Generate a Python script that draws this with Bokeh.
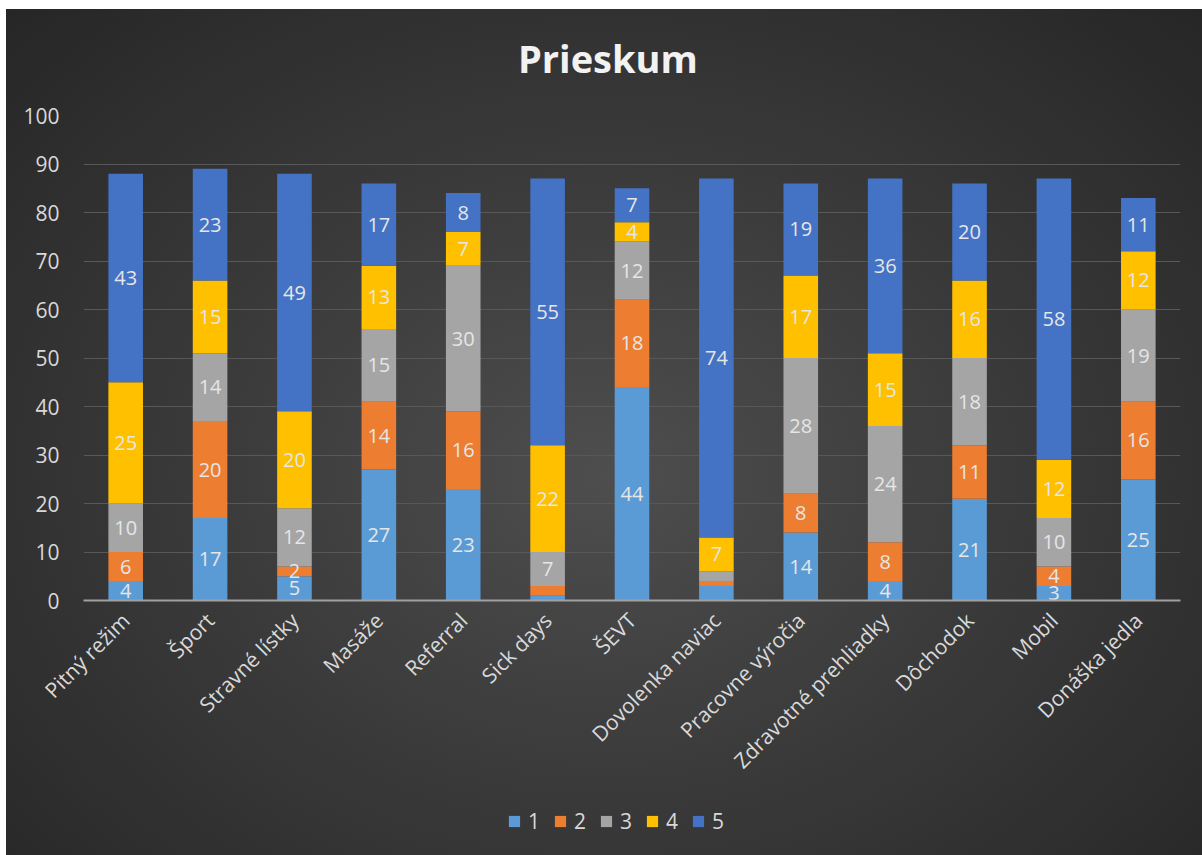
import numpy as np
from bokeh.plotting import figure
from bokeh.layouts import column
from bokeh.models import (ColumnDataSource, FactorRange, Legend, LegendItem, FixedTicker, Label,
                          Range1d)
from bokeh.core.properties import value
from bokeh.embed import file_html
from bokeh.resources import INLINE

title_text = "Prieskum"
categories = ["Pitný režim", "Šport", "Stravné lístky", "Masáže", "Referral", "Sick days",
              "ŠEVT", "Dovolenka naviac", "Pracovne výročia", "Zdravotné prehliadky",
              "Dôchodok", "Mobil", "Donáška jedla"]
s1 = [4, 17, 5, 27, 23, 1, 44, 3, 14, 4, 21, 3, 25]
s2 = [6, 20, 2, 14, 16, 2, 18, 1, 8, 8, 11, 4, 16]
s3 = [10, 14, 12, 15, 30, 7, 12, 2, 28, 24, 18, 10, 19]
s4 = [25, 15, 20, 13, 7, 22, 4, 7, 17, 15, 16, 12, 12]
s5 = [43, 23, 49, 17, 8, 55, 7, 74, 19, 36, 20, 58, 11]
series_names = ["1", "2", "3", "4", "5"]
colors = ["#5B9BD5", "#ED7D31", "#A5A5A5", "#FFC000", "#4472C4"]
# data labels not displayed in the reference (category, series)
hidden_labels = [("Sick days", "1"), ("Sick days", "2"),
                 ("Dovolenka naviac", "1"), ("Dovolenka naviac", "2"), ("Dovolenka naviac", "3")]
y_ticks = [0, 10, 20, 30, 40, 50, 60, 70, 80, 90, 100]

FONT = "Open Sans"
series = [s1, s2, s3, s4, s5]
data = {"cat": categories}
for name, s in zip(series_names, series):
    data[name] = s
source = ColumnDataSource(data)


def strip(height):
    f = figure(width=1196, height=height, output_backend="svg", toolbar_location=None,
               x_range=Range1d(0, 1), y_range=Range1d(0, 1),
               min_border_left=0, min_border_right=0, min_border_top=0, min_border_bottom=0)
    f.axis.visible = False
    f.grid.grid_line_color = None
    f.border_fill_alpha = 0
    f.background_fill_alpha = 0
    f.outline_line_color = None
    return f


# title strip (frames of the column's figures are aligned with the chart's frame)
tf = strip(80)
tf.add_layout(Label(x=0.478, y=0.4, text=title_text, text_align="center", text_baseline="middle",
                    text_font=FONT, text_font_style="bold", text_font_size="38px",
                    text_color="#f2f2f2"))

p = figure(x_range=FactorRange(*categories, range_padding=0), y_range=(0, 100),
           width=1196, height=700, output_backend="svg", toolbar_location=None,
           min_border_left=77, min_border_right=22, min_border_top=26, min_border_bottom=189)
p.border_fill_alpha = 0
p.background_fill_alpha = 0
p.outline_line_color = None

p.vbar_stack(series_names, x="cat", width=0.41, color=colors, source=source, line_color=None)

# data labels
cum = np.zeros(len(categories))
for name, s in zip(series_names, series):
    arr = np.array(s, dtype=float)
    mids = cum + arr / 2
    cum = cum + arr
    texts = [("" if (c, name) in hidden_labels else str(v)) for c, v in zip(categories, s)]
    p.text(x=categories, y=list(mids), text=texts, text_align="center", text_baseline="middle",
           text_color="#e6e6e6", text_font_size="20px", text_font=value(FONT))

# axes
p.yaxis.ticker = FixedTicker(ticks=y_ticks)
p.yaxis.axis_line_color = None
p.yaxis.major_tick_line_color = None
p.yaxis.minor_tick_line_color = None
p.yaxis.major_label_text_color = "#d9d9d9"
p.yaxis.major_label_text_font = FONT
p.yaxis.major_label_text_font_size = "21px"
p.yaxis.major_label_standoff = 18

p.xaxis.axis_line_color = "#a0a0a0"
p.xaxis.axis_line_width = 2
p.xaxis.major_tick_line_color = None
p.xaxis.minor_tick_line_color = None
p.xaxis.major_label_orientation = np.pi / 4
p.xaxis.major_label_text_color = "#d9d9d9"
p.xaxis.major_label_text_font = FONT
p.xaxis.major_label_text_font_size = "21px"
p.xaxis.major_label_standoff = 10

p.xgrid.grid_line_color = None
p.ygrid.grid_line_color = "#585858"
p.ygrid.grid_line_width = 1

# legend strip
lg = strip(66)
legend_renderers = [lg.vbar(x=[-5], top=[-5], width=0.5, color=c, line_color=None) for c in colors]
legend = Legend(items=[LegendItem(label=n, renderers=[r]) for n, r in zip(series_names, legend_renderers)],
                orientation="horizontal", location=(424, 20),
                glyph_width=14, glyph_height=14, label_text_font=FONT, label_text_font_size="21px",
                label_text_color="#d9d9d9", spacing=13, label_standoff=7, label_width=0,
                padding=0, margin=0, background_fill_alpha=0, border_line_color=None)
lg.add_layout(legend, "center")

layout = column(tf, p, lg, spacing=0,
                styles={"background": "radial-gradient(ellipse at 50% 55%, #4e4e4e 0%, #3b3b3b 45%, #262626 100%)",
                        "margin-left": "6px", "margin-top": "9px"})

open("out.html", "w").write(file_html(layout, INLINE))
